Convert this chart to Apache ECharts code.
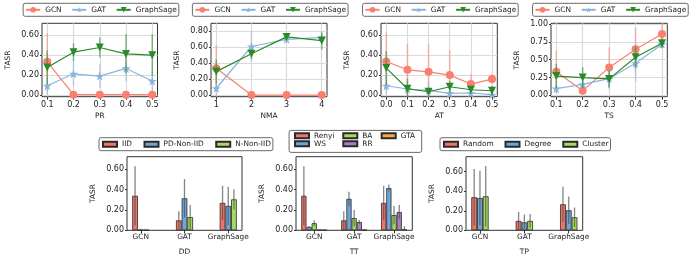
<!DOCTYPE html>
<html><head><meta charset="utf-8">
<script src="https://cdn.jsdelivr.net/npm/echarts@6/dist/echarts.min.js"></script>
<style>html,body{margin:0;padding:0;background:#fff}#c{width:692px;height:260px}</style>
</head><body><div id="c"></div>
<script>
// ================= DATA =================
const models = ['GCN', 'GAT', 'GraphSage'];

// PR
const prX = [0.1, 0.2, 0.3, 0.4, 0.5];
const prGCN = [0.333, 0.003, 0.003, 0.003, 0.003];
const prGCNErr = [0.29, 0.01, 0.01, 0.01, 0.01];
const prGAT = [0.093, 0.213, 0.19, 0.267, 0.14];
const prGATErr = [0.09, 0.12, 0.12, 0.13, 0.1];
const prSage = [0.277, 0.43, 0.477, 0.413, 0.4];
const prSageErr = [0.17, 0.09, 0.1, 0.2, 0.21];

// NMA
const nmaX = [1, 2, 3, 4];
const nmaGCN = [0.337, 0.003, 0.003, 0.003];
const nmaGCNErr = [0.29, 0.01, 0.01, 0.01];
const nmaGAT = [0.088, 0.61, 0.70, 0.725];
const nmaGATErr = [0.09, 0.19, 0.03, 0.03];
const nmaSage = [0.296, 0.52, 0.73, 0.683];
const nmaSageErr = [0.15, 0.06, 0.03, 0.11];

// AT
const atX = [0.0, 0.1, 0.2, 0.3, 0.4, 0.5];
const atGCN = [0.337, 0.253, 0.233, 0.2, 0.11, 0.16];
const atGCNErr = [0.29, 0.26, 0.28, 0.25, 0.1, 0.05];
const atGAT = [0.093, 0.06, 0.047, 0.017, 0.02, 0.003];
const atGATErr = [0.09, 0.06, 0.08, 0.02, 0.02, 0.01];
const atSage = [0.27, 0.063, 0.033, 0.083, 0.053, 0.043];
const atSageErr = [0.17, 0.1, 0.04, 0.06, 0.04, 0.05];

// TS
const tsX = [0.1, 0.2, 0.3, 0.4, 0.5];
const tsGCN = [0.33, 0.065, 0.39, 0.645, 0.86];
const tsGCNErr = [0.29, 0.06, 0.28, 0.3, 0.15];
const tsGAT = [0.093, 0.154, 0.234, 0.449, 0.715];
const tsGATErr = [0.06, 0.05, 0.15, 0.26, 0.05];
const tsSage = [0.27, 0.248, 0.23, 0.533, 0.729];
const tsSageErr = [0.17, 0.15, 0.12, 0.15, 0.07];

// tick labels
const yTicks06 = [0, 0.2, 0.4, 0.6];
const yTicks08 = [0, 0.2, 0.4, 0.6, 0.8];
const yTicks10 = [0, 0.25, 0.5, 0.75, 1.0];

// Bar groups
const barCats = ['GCN', 'GAT', 'GraphSage'];

const ddNames = ['IID', 'PD-Non-IID', 'N-Non-IID'];
const ddIID = [0.34, 0.098, 0.27];
const ddIIDErr = [0.29, 0.09, 0.17];
const ddPD = [0.005, 0.315, 0.24];
const ddPDErr = [0.004, 0.19, 0.19];
const ddN = [0.003, 0.13, 0.305];
const ddNErr = [0.002, 0.12, 0.1];

const ttNames = ['Renyi', 'WS', 'BA', 'RR', 'GTA'];
const ttRenyi = [0.34, 0.098, 0.27];
const ttRenyiErr = [0.29, 0.09, 0.17];
const ttWS = [0.033, 0.31, 0.416];
const ttWSErr = [0.01, 0.07, 0.035];
const ttBA = [0.07, 0.12, 0.15];
const ttBAErr = [0.03, 0.08, 0.09];
const ttRR = [0.005, 0.082, 0.18];
const ttRRErr = [0.003, 0.02, 0.07];
const ttGTA = [0.003, 0.005, 0.01];
const ttGTAErr = [0.002, 0.003, 0.03];

const tpNames = ['Random', 'Degree', 'Cluster'];
const tpRandom = [0.338, 0.096, 0.266];
const tpRandomErr = [0.29, 0.09, 0.18];
const tpDegree = [0.33, 0.082, 0.205];
const tpDegreeErr = [0.28, 0.08, 0.14];
const tpCluster = [0.348, 0.096, 0.133];
const tpClusterErr = [0.31, 0.07, 0.1];

// ================= STYLE =================
const FONT = 'DejaVu Sans';
const TXT = '#222';
const modelColors = ['#FA7F6F', '#89B5DD', '#2A8A2A'];
const modelErrColors = ['rgba(250,127,111,0.5)', 'rgba(137,181,221,0.5)', 'rgba(42,138,42,0.55)'];
const STAR = 'path://M50,2 L61.8,36.3 L97.6,36.3 L68.7,57.5 L79.4,92 L50,71 L20.6,92 L31.3,57.5 L2.4,36.3 L38.2,36.3 Z';
const modelSymbols = ['circle', STAR, 'triangle'];
const modelSymbolRot = [0, 0, 180];
const modelSymbolSize = [8, 9, 8];

const C_RED = '#F27466', C_BLUE = '#6FA6D6', C_GREEN = '#A6DC5C', C_PURPLE = '#B07CC6', C_ORANGE = '#FFA742';

const grids = [], xAxes = [], yAxes = [], series = [], legends = [], graphics = [];

function errSeries(ai, xs, m, e, color, lw, z) {
  return {
    type: 'custom', xAxisIndex: ai, yAxisIndex: ai, clip: true, silent: true, z: z,
    data: xs.map((x, i) => [x, m[i] - e[i], m[i] + e[i]]),
    encode: { x: 0, y: [1, 2] },
    renderItem: (params, api) => {
      const a = api.coord([api.value(0), api.value(1)]);
      const b = api.coord([api.value(0), api.value(2)]);
      return { type: 'line', shape: { x1: a[0], y1: a[1], x2: b[0], y2: b[1] },
        style: { stroke: color, lineWidth: lw } };
    }
  };
}

function axisCommon() {
  return {
    axisLine: { show: false, onZero: false },
    nameTextStyle: { fontFamily: FONT, fontSize: 7.4, color: TXT },
  };
}

// ---- line subplots ----
const lineDefs = [
  { name: 'PR', xs: prX, means: [prGCN, prGAT, prSage], errs: [prGCNErr, prGATErr, prSageErr],
    xMin: 0.08, xMax: 0.52, yMin: -0.017, yMax: 0.72, yTicks: yTicks06, xDec: 1, left: 42, width: 115.5 },
  { name: 'NMA', xs: nmaX, means: [nmaGCN, nmaGAT, nmaSage], errs: [nmaGCNErr, nmaGATErr, nmaSageErr],
    xMin: 0.85, xMax: 4.15, yMin: -0.0175, yMax: 0.9, yTicks: yTicks08, xDec: 0, left: 211, width: 116 },
  { name: 'AT', xs: atX, means: [atGCN, atGAT, atSage], errs: [atGCNErr, atGATErr, atSageErr],
    xMin: -0.025, xMax: 0.525, yMin: -0.017, yMax: 0.72, yTicks: yTicks06, xDec: 1, left: 381, width: 116.3 },
  { name: 'TS', xs: tsX, means: [tsGCN, tsGAT, tsSage], errs: [tsGCNErr, tsGATErr, tsSageErr],
    xMin: 0.08, xMax: 0.52, yMin: -0.02, yMax: 1.01, yTicks: yTicks10, xDec: 1, left: 551, width: 116.3 },
];

lineDefs.forEach((d, gi) => {
  grids.push({ left: d.left, top: 23.3, width: d.width, height: 73.4, show: true,
    borderColor: '#333', borderWidth: 1, backgroundColor: 'transparent', containLabel: false, outerBoundsMode: 'none' });
  xAxes.push(Object.assign(axisCommon(), {
    type: 'value', gridIndex: gi, min: d.xMin, max: d.xMax, name: d.name, nameLocation: 'middle', nameGap: 15.5,
    axisTick: { show: true, length: 3, lineStyle: { color: '#333' }, customValues: d.xs },
    axisLabel: { customValues: d.xs, margin: 4, fontFamily: FONT, fontSize: 8, color: TXT,
      formatter: v => v.toFixed(d.xDec) },
    splitLine: { show: true, lineStyle: { color: '#dadada', width: 1.2 } },
  }));
  yAxes.push(Object.assign(axisCommon(), {
    type: 'value', gridIndex: gi, min: d.yMin, max: d.yMax, name: 'TASR', nameLocation: 'middle', nameGap: 30.5,
    axisTick: { show: true, length: 2, lineStyle: { color: '#333' }, customValues: d.yTicks },
    axisLabel: { customValues: d.yTicks, margin: 3, fontFamily: FONT, fontSize: 8, color: TXT,
      formatter: v => v.toFixed(2) },
    splitLine: { show: true, lineStyle: { color: '#dadada', width: 1.2 } },
  }));
  models.forEach((m, k) => {
    series.push(errSeries(gi, d.xs, d.means[k], d.errs[k], modelErrColors[k], 1.5, 2 + k));
    series.push({
      type: 'line', name: m, xAxisIndex: gi, yAxisIndex: gi, z: 2 + k,
      data: d.xs.map((x, i) => [x, d.means[k][i]]),
      symbol: modelSymbols[k], symbolSize: modelSymbolSize[k], symbolRotate: modelSymbolRot[k],
      showAllSymbol: true, clip: false,
      lineStyle: { color: modelColors[k], width: 1.2 },
      itemStyle: { color: modelColors[k] },
    });
  });
  const cx = d.left + d.width / 2;
  legends.push({
    data: models, left: cx - 76.6, top: 3.3, orient: 'horizontal', itemWidth: 14, itemHeight: 7, itemGap: 9.7,
    padding: [3, 2, 3, 2], borderColor: '#444', borderWidth: 0.8, borderRadius: 2, backgroundColor: '#fff',
    selectedMode: false, textStyle: { fontFamily: FONT, fontSize: 7.4, color: TXT },
  });
});

// ---- bar subplots ----
const barDefs = [
  { name: 'DD', names: ddNames, vals: [ddIID, ddPD, ddN], errs: [ddIIDErr, ddPDErr, ddNErr],
    colors: [C_RED, C_BLUE, C_GREEN], yMax: 0.725, left: 127, width: 115 },
  { name: 'TT', names: ttNames, vals: [ttRenyi, ttWS, ttBA, ttRR, ttGTA],
    errs: [ttRenyiErr, ttWSErr, ttBAErr, ttRRErr, ttGTAErr],
    colors: [C_RED, C_BLUE, C_GREEN, C_PURPLE, C_ORANGE], yMax: 0.725, left: 296, width: 116.3 },
  { name: 'TP', names: tpNames, vals: [tpRandom, tpDegree, tpCluster], errs: [tpRandomErr, tpDegreeErr, tpClusterErr],
    colors: [C_RED, C_BLUE, C_GREEN], yMax: 0.753, left: 466, width: 116.7 },
];
const catIdx = barCats.map((c, i) => i);
const BAR_W = 0.13;

barDefs.forEach((d, bi) => {
  const gi = 4 + bi;
  const n = d.names.length;
  const half = BAR_W * n / 2;
  const xMin = -half - 0.05 * (2 + 2 * half), xMax = 2 + half + 0.05 * (2 + 2 * half);
  const bwPx = BAR_W * d.width / (xMax - xMin);
  grids.push({ left: d.left, top: 156.7, width: d.width, height: 73.6, show: true,
    borderColor: '#333', borderWidth: 1, backgroundColor: 'transparent', containLabel: false, outerBoundsMode: 'none' });
  xAxes.push(Object.assign(axisCommon(), {
    type: 'value', gridIndex: gi, min: xMin, max: xMax, name: d.name, nameLocation: 'middle', nameGap: 18,
    axisTick: { show: true, length: 3, lineStyle: { color: '#333' }, customValues: catIdx },
    axisLabel: { customValues: catIdx, margin: 3, fontFamily: FONT, fontSize: 7.4, color: TXT,
      formatter: v => barCats[Math.round(v)] },
    splitLine: { show: false },
  }));
  yAxes.push(Object.assign(axisCommon(), {
    type: 'value', gridIndex: gi, min: 0, max: d.yMax, name: 'TASR', nameLocation: 'middle', nameGap: 30,
    axisTick: { show: true, length: 2, lineStyle: { color: '#333' }, customValues: yTicks06 },
    axisLabel: { customValues: yTicks06, margin: 3, fontFamily: FONT, fontSize: 8, color: TXT,
      formatter: v => v.toFixed(2) },
    splitLine: { show: false },
  }));
  d.names.forEach((nm, k) => {
    const off = (k - (n - 1) / 2) * BAR_W;
    series.push({
      type: 'bar', name: nm, xAxisIndex: gi, yAxisIndex: gi, barWidth: bwPx, barGap: '-100%', z: 2,
      data: catIdx.map(i => [i + off, d.vals[k][i]]),
      itemStyle: { color: d.colors[k], borderColor: '#2a2a2a', borderWidth: 0.8 },
    });
  });
  d.names.forEach((nm, k) => {
    const off = (k - (n - 1) / 2) * BAR_W;
    series.push(errSeries(gi, catIdx.map(i => i + off), d.vals[k], d.errs[k], 'rgba(80,80,80,0.7)', 1.3, 5));
  });
});

// bottom legends
const barLegendCommon = {
  orient: 'horizontal', icon: 'rect', itemWidth: 14, itemHeight: 5, selectedMode: false,
  textStyle: { fontFamily: FONT, fontSize: 7.4, color: TXT },
};
legends.push(Object.assign({}, barLegendCommon, {
  data: ddNames, left: 99, top: 137.7, itemGap: 11.45, padding: [3, 2, 3, 3],
  borderColor: '#444', borderWidth: 0.8, borderRadius: 2, backgroundColor: '#fff',
}));
legends.push(Object.assign({}, barLegendCommon, {
  data: tpNames, left: 440, top: 137.7, itemGap: 10.9, padding: [3, 2, 3, 3],
  borderColor: '#444', borderWidth: 0.8, borderRadius: 2, backgroundColor: '#fff',
}));
// TT legend: column-major, 3 columns
const ttCols = [[ttNames[0], ttNames[1]], [ttNames[2], ttNames[3]], [ttNames[4]]];
const ttColLeft = [294, 342.3, 380.7];
ttCols.forEach((col, ci) => {
  legends.push(Object.assign({}, barLegendCommon, {
    data: col, orient: 'vertical', left: ttColLeft[ci], top: 132.3, itemGap: 0.9, padding: 0, z: 10,
  }));
});
graphics.push({ type: 'rect', left: 288.7, top: 130, z: 1,
  shape: { width: 132.6, height: 22, r: 2 }, style: { fill: '#fff', stroke: '#444', lineWidth: 0.8 } });

const chart = echarts.init(document.getElementById('c'), null, { renderer: 'canvas' });
chart.setOption({
  animation: false,
  backgroundColor: '#fff',
  textStyle: { fontFamily: FONT },
  grid: grids, xAxis: xAxes, yAxis: yAxes, series: series, legend: legends, graphic: graphics,
});
</script>
</body></html>
